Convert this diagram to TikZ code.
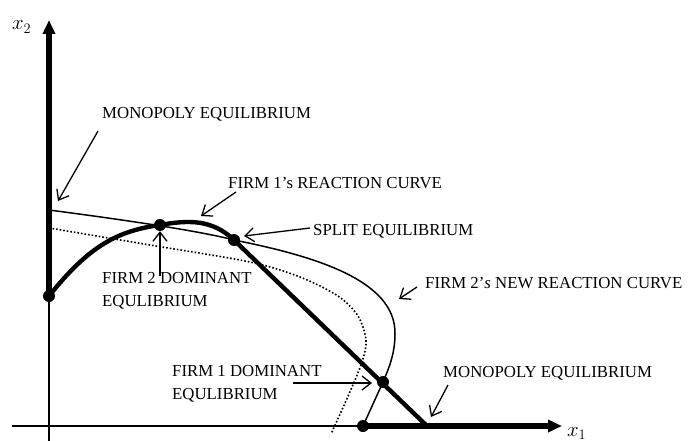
\documentclass[tikz,border=0pt]{standalone}
\usepackage{fontspec}
\setmainfont{Liberation Serif}
\usetikzlibrary{arrows.meta}

\begin{document}
\begin{tikzpicture}[x=1pt,y=-1pt]
\tikzset{
  axisthick/.style={line width=5.2pt,-{Triangle[length=14pt,width=12pt]}},
  axisthin/.style={line width=1.2pt},
  thickcurve/.style={line width=4.4pt},
  thincurve/.style={line width=1.5pt},
  dotcurve/.style={line width=1.6pt,dotted},
  eqdot/.style={circle,fill,inner sep=0pt,minimum size=12pt},
  pointer/.style={line width=1.3pt,-{Straight Barb[length=9pt,width=14pt]}},
  lbl/.style={inner sep=0pt,anchor=base west,font=\fontsize{16.8}{23}\selectfont},
  lbltwo/.style={inner sep=0pt,anchor=north west,align=left,font=\fontsize{16.8}{23}\selectfont},
  axlbl/.style={inner sep=0pt,anchor=base west,font=\fontsize{21}{25}\selectfont}
}
\useasboundingbox (0,0) rectangle (690,441);
% equilibrium points
\node[eqdot] (d_mono2) at (49,296) {};
\node[eqdot] (d_f2dom) at (160,225) {};
\node[eqdot] (d_split) at (234,240) {};
\node[eqdot] (d_f1dom) at (383,382) {};
\node[eqdot] (d_mono1) at (363,426) {};
% axes
\coordinate (c_ytop) at (49,20);
\coordinate (c_ybot) at (49,441);
\coordinate (c_xleft) at (12,426);
\coordinate (c_xright) at (562,426);
\coordinate (c_xcut) at (427,426);
\draw[axisthin] (c_ybot) -- (d_mono2.center);
\draw[axisthin] (c_xleft) -- (d_mono1.center);
\draw[axisthick] (d_mono2.center) -- (c_ytop);
\draw[axisthick] (d_mono1.center) -- (c_xright);
\node[axlbl] (l_x2) at (12,30) {\(x_2\)};
\node[axlbl] (l_x1) at (567,436) {\(x_1\)};
% reaction curves
\coordinate (c_f1top) at (49,210);
\coordinate (c_f2right) at (395,334);
\draw[thincurve] (c_f1top) .. controls (110,218) and (196,230) .. (d_split.center)
  .. controls (314,256) and (396,280) .. (c_f2right)
  .. controls (395,355) and (388,370) .. (d_f1dom.center) -- (d_mono1.center);
\draw[thickcurve] (d_mono2.center) .. controls (89,246) and (117,231) .. (d_f2dom.center)
  .. controls (188,220) and (212,219) .. (d_split.center) -- (c_xcut);
\draw[dotcurve] plot[smooth] coordinates {(49,228) (150,245) (250,262) (300,277) (338,296) (358,316) (366,340) (362,362) (349,394) (331,434)};
% labels
\node[lbl] (l_mono2) at (102,119) {MONOPOLY EQUILIBRIUM};
\node[lbl] (l_f1curve) at (228,188) {FIRM 1’s REACTION CURVE};
\node[lbl] (l_split) at (313,235) {SPLIT EQUILIBRIUM};
\node[lbltwo] (l_f2dom) at (102,272) {FIRM 2 DOMINANT\\EQULIBRIUM};
\node[lbl] (l_f2curve) at (425,288) {FIRM 2’\textit{s} NEW REACTION CURVE};
\node[lbltwo] (l_f1dom) at (172,365) {FIRM 1 DOMINANT\\EQULIBRIUM};
\node[lbl] (l_mono1) at (443,377) {MONOPOLY EQUILIBRIUM};
% pointers
\coordinate (p_mono2a) at (98,131);
\coordinate (p_mono2b) at (58,201);
\coordinate (p_f1a) at (236,192);
\coordinate (p_f1b) at (201,216);
\coordinate (p_splita) at (310,228);
\coordinate (p_splitb) at (244,236);
\coordinate (p_f2doma) at (160,276);
\coordinate (p_f1doma) at (293,383);
\coordinate (p_f1domb) at (372,383);
\coordinate (p_f2a) at (417,287);
\coordinate (p_f2b) at (399,299);
\coordinate (p_mono1a) at (448,385);
\coordinate (p_mono1b) at (431,417);
\draw[pointer] (p_mono2a) -- (p_mono2b);
\draw[pointer] (p_f1a) -- (p_f1b);
\draw[pointer] (p_splita) -- (p_splitb);
\draw[pointer] (p_f2doma) -- (d_f2dom.south);
\draw[pointer] (p_f1doma) -- (p_f1domb);
\draw[pointer] (p_f2a) -- (p_f2b);
\draw[pointer] (p_mono1a) -- (p_mono1b);
\end{tikzpicture}
\end{document}
